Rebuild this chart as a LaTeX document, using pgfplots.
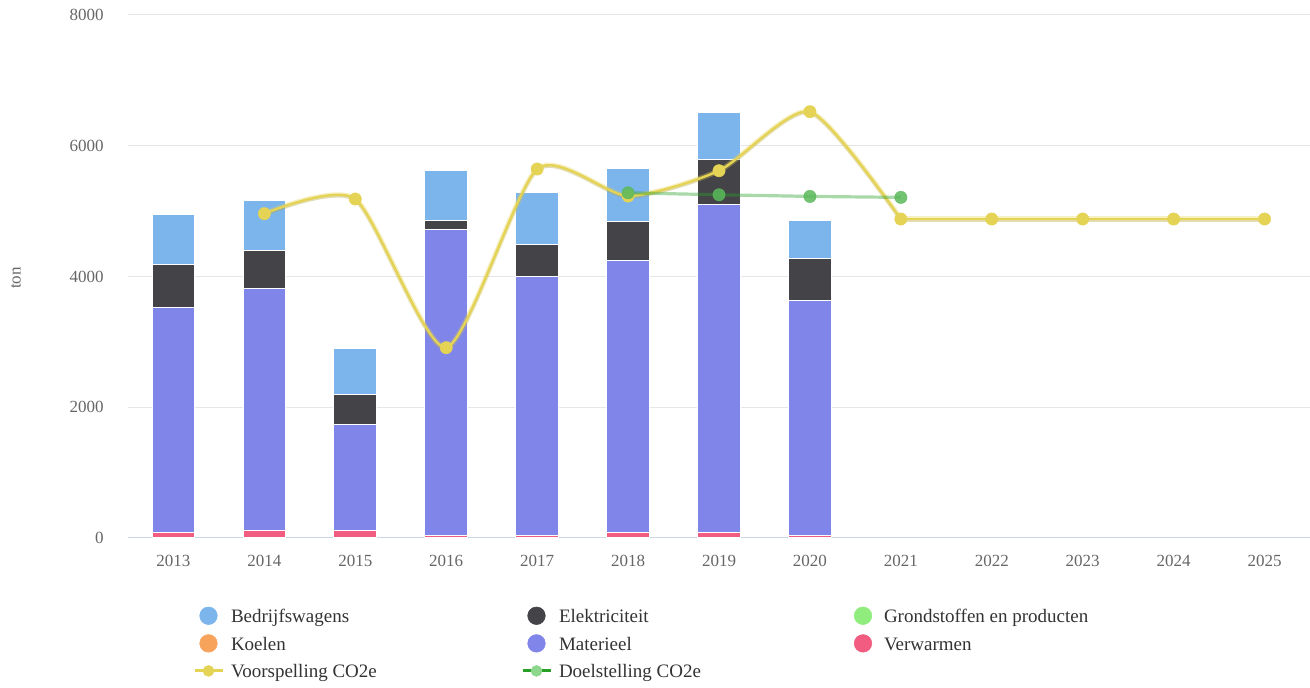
\documentclass[border=0pt]{standalone}
\usepackage{fontspec}
\setmainfont{Liberation Serif}
\usepackage{pgfplots}
\pgfplotsset{compat=1.18}
\definecolor{cB}{HTML}{7CB5EC}
\definecolor{cE}{HTML}{434348}
\definecolor{cG}{HTML}{90ED7D}
\definecolor{cK}{HTML}{F7A35C}
\definecolor{cM}{HTML}{8085E9}
\definecolor{cV}{HTML}{F15C80}
\definecolor{cY}{HTML}{E4D354}
\definecolor{cGL}{RGB}{40,160,40}
\definecolor{cGM}{RGB}{90,185,90}
\definecolor{cGLeg}{RGB}{140,215,140}
\definecolor{cGrid}{HTML}{E6E6E6}
\definecolor{cAxis}{HTML}{CCD6EB}
\definecolor{cTick}{HTML}{666666}
\definecolor{cText}{HTML}{333333}
\definecolor{cEdge}{HTML}{E2E2EC}
\pgfplotsset{base/.style={
  at={(96pt,112.5pt)}, anchor=south west,
  scale only axis, width=886.5pt, height=392.25pt,
  xmin=-0.5, xmax=12.5, ymin=0, ymax=8000,
}}
\begin{document}
\begin{tikzpicture}
\path[use as bounding box] (0pt,0pt) rectangle (982.5pt,516pt);
\begin{axis}[base, ybar stacked, bar width=32pt,
  axis x line*=bottom, axis y line*=left,
  x axis line style={cAxis, line width=0.75pt},
  y axis line style={draw=none},
  major tick length=0pt,
  xtick={0,1,2,3,4,5,6,7,8,9,10,11,12},
  xticklabels={2013,2014,2015,2016,2017,2018,2019,2020,2021,2022,2023,2024,2025},
  ytick={0,2000,4000,6000,8000}, yticklabels={0,2000,4000,6000,8000},
  ymajorgrids, grid style={cGrid, line width=0.75pt},
  xticklabel style={font=\fontsize{12.75}{15}\selectfont, text=cTick, anchor=north, inner sep=0pt, yshift=-13pt},
  yticklabel style={font=\fontsize{12.75}{15}\selectfont, text=cTick, anchor=east, inner sep=0pt, xshift=-18pt},
  ylabel={ton},
  ylabel style={at={(axis description cs:-0.09475,0.497)}, anchor=center, font=\fontsize{12.75}{15}\selectfont, text=cTick},
]
\addplot[fill=cV, draw=white, line width=0.75pt] coordinates {(0,87)(1,122)(2,122)(3,40)(4,40)(5,84)(6,87)(7,40)};
\addplot[fill=cM, draw=white, line width=0.75pt] coordinates {(0,3442)(1,3697)(2,1617)(3,4686)(4,3957)(5,4153)(6,5007)(7,3600)};
\addplot[fill=cE, draw=white, line width=0.75pt] coordinates {(0,658)(1,582)(2,459)(3,123)(4,500)(5,601)(6,688)(7,638)};
\addplot[fill=cB, draw=white, line width=0.75pt] coordinates {(0,764)(1,759)(2,693)(3,769)(4,785)(5,817)(6,729)(7,576)};
\end{axis}
\begin{axis}[base, hide axis, legend columns=3, legend cell align=left,
  legend style={at={(axis description cs:0.05499,-0.1314)}, anchor=north west,
    draw=none, fill=none, inner sep=0pt, outer sep=0pt, row sep=7.1pt,
    /tikz/every odd column/.style={column sep=5.25pt},
    nodes={inner sep=0pt, text height=12pt, text depth=1.5pt, font=\fontsize{14.25}{17}\selectfont, text=cText}},
]
\addlegendimage{legend image code/.code={\path[draw=none] (0pt,0pt) -- (21pt,0pt); \fill[cB] (10.5pt,0pt) circle (6.6pt);}}
\addlegendentry{\makebox[217.5pt][l]{Bedrijfswagens}}
\addlegendimage{legend image code/.code={\path[draw=none] (0pt,0pt) -- (21pt,0pt); \fill[cE] (10.5pt,0pt) circle (6.6pt);}}
\addlegendentry{\makebox[217.5pt][l]{Elektriciteit}}
\addlegendimage{legend image code/.code={\path[draw=none] (0pt,0pt) -- (21pt,0pt); \fill[cG] (10.5pt,0pt) circle (6.6pt);}}
\addlegendentry{Grondstoffen en producten}
\addlegendimage{legend image code/.code={\path[draw=none] (0pt,0pt) -- (21pt,0pt); \fill[cK] (10.5pt,0pt) circle (6.6pt);}}
\addlegendentry{\makebox[217.5pt][l]{Koelen}}
\addlegendimage{legend image code/.code={\path[draw=none] (0pt,0pt) -- (21pt,0pt); \fill[cM] (10.5pt,0pt) circle (6.6pt);}}
\addlegendentry{\makebox[217.5pt][l]{Materieel}}
\addlegendimage{legend image code/.code={\path[draw=none] (0pt,0pt) -- (21pt,0pt); \fill[cV] (10.5pt,0pt) circle (6.6pt);}}
\addlegendentry{Verwarmen}
\addlegendimage{legend image code/.code={\draw[cY, line width=2.25pt] (0pt,0pt) -- (21pt,0pt); \fill[cY] (10.5pt,0pt) circle (4.1pt);}}
\addlegendentry{\makebox[217.5pt][l]{Voorspelling CO2e}}
\addlegendimage{legend image code/.code={\draw[cGL, line width=2.25pt] (0pt,0pt) -- (21pt,0pt); \fill[cGLeg] (10.5pt,0pt) circle (4.1pt);}}
\addlegendentry{\makebox[217.5pt][l]{Doelstelling CO2e}}
% Voorspelling CO2e: shadow, halo, core
\addplot[smooth, tension=0.4, black, opacity=0.12, line width=2pt, yshift=-1pt, forget plot] coordinates {(1,4961)(2,5185)(3,2911)(4,5644)(5,5231)(6,5618)(7,6521)(8,4879)};
\addplot[sharp plot, black, opacity=0.12, line width=2pt, yshift=-1pt, forget plot] coordinates {(8,4879)(9,4879)(10,4879)(11,4879)(12,4879)};
\addplot[smooth, tension=0.4, cY, opacity=0.35, line width=3.9pt, forget plot] coordinates {(1,4961)(2,5185)(3,2911)(4,5644)(5,5231)(6,5618)(7,6521)(8,4879)};
\addplot[sharp plot, cY, opacity=0.35, line width=3.9pt, forget plot] coordinates {(8,4879)(9,4879)(10,4879)(11,4879)(12,4879)};
\addplot[smooth, tension=0.4, cY, line width=1.8pt, forget plot] coordinates {(1,4961)(2,5185)(3,2911)(4,5644)(5,5231)(6,5618)(7,6521)(8,4879)};
\addplot[sharp plot, cY, line width=1.8pt, forget plot] coordinates {(8,4879)(9,4879)(10,4879)(11,4879)(12,4879)};
\addplot[only marks, mark=*, mark size=4.6pt, mark options={fill=cY, draw=cY}, forget plot] coordinates {(1,4961)(2,5185)(3,2911)(4,5644)(5,5231)(6,5618)(7,6521)(8,4879)(9,4879)(10,4879)(11,4879)(12,4879)};
% Doelstelling CO2e
\addplot[sharp plot, cGL, opacity=0.4, line width=2.4pt, forget plot] coordinates {(5,5280)(6,5250)(7,5225)(8,5210)};
\addplot[only marks, mark=*, mark size=4.6pt, mark options={fill=cGM, draw=cGM, opacity=0.85}, forget plot] coordinates {(5,5280)(6,5250)(7,5225)(8,5210)};
\end{axis}
\end{tikzpicture}
\end{document}
